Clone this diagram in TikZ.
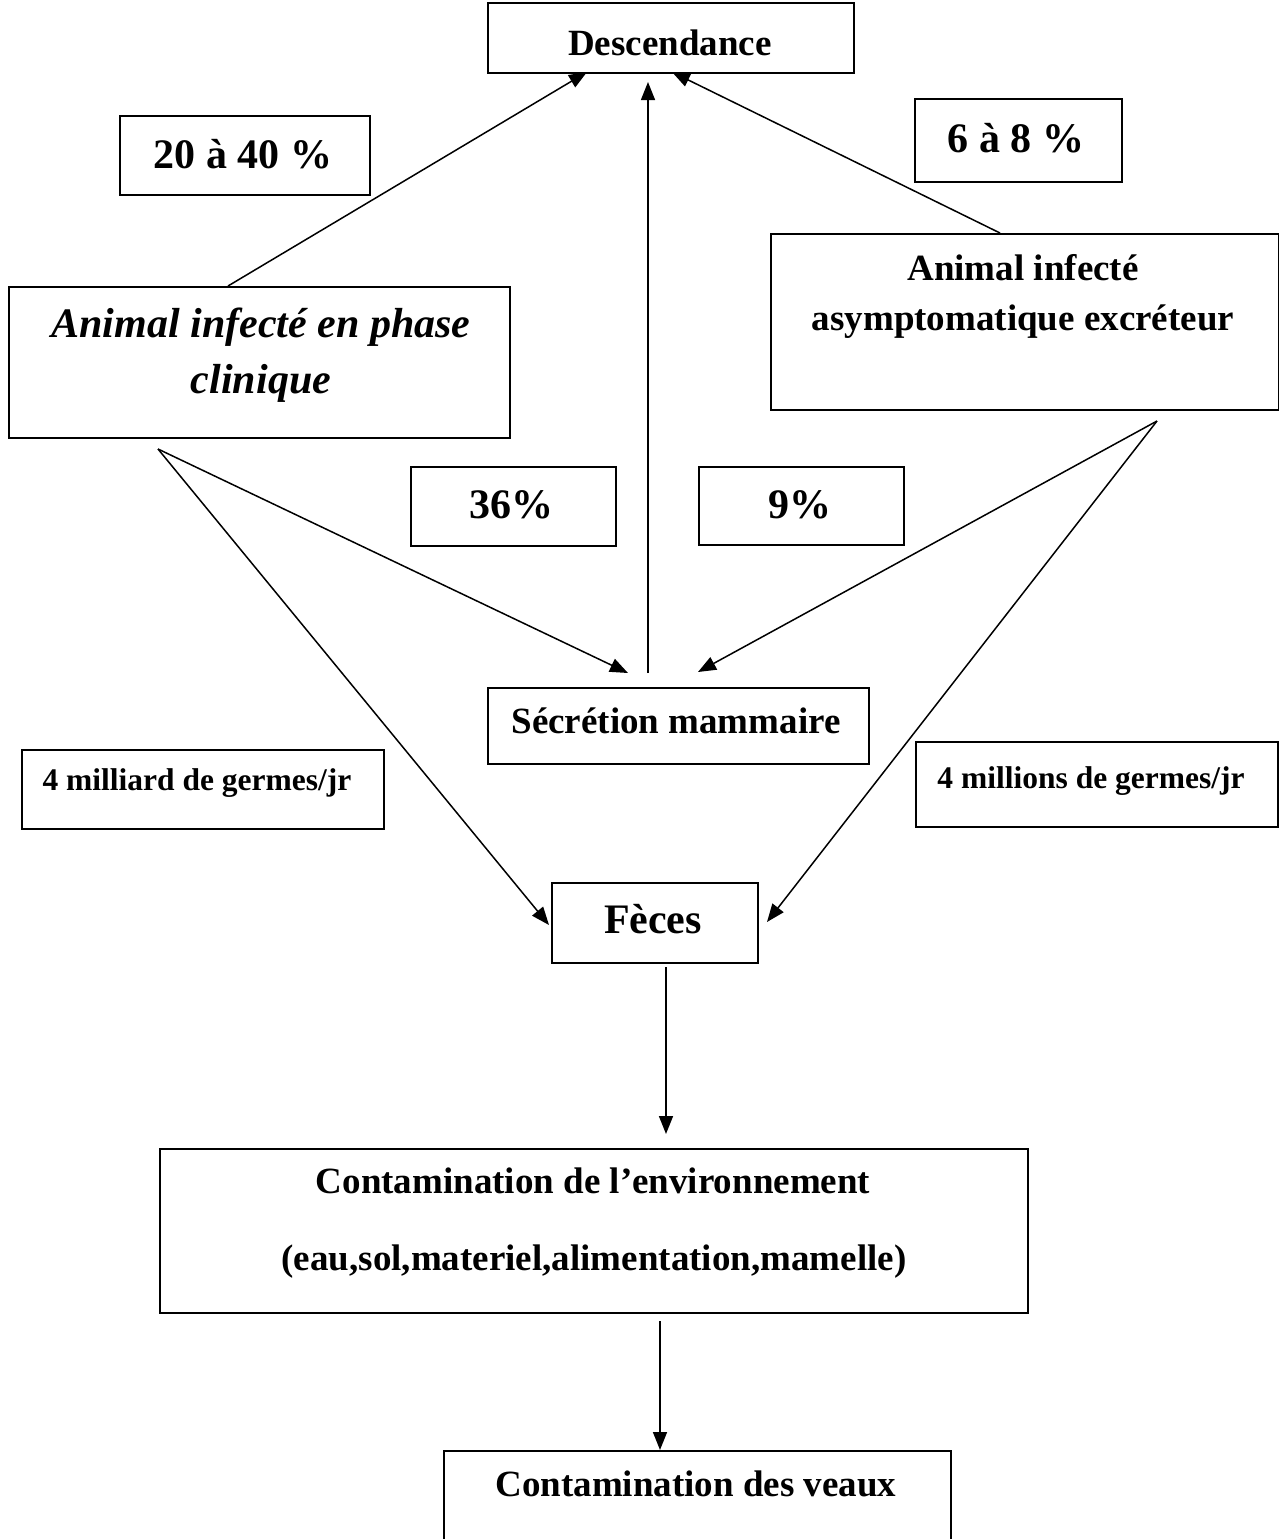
\documentclass[tikz,border=0pt]{standalone}
\usepackage{fontspec}
\setmainfont{Liberation Serif}
\usetikzlibrary{arrows.meta}
\begin{document}
\begin{tikzpicture}[x=0.5pt,y=-0.5pt,
  box/.style={draw, line width=1pt, inner sep=0pt, anchor=north west},
  txt/.style={inner sep=0pt, anchor=base, font=\bfseries\fontsize{18.5}{22}\selectfont},
  bigtxt/.style={inner sep=0pt, anchor=base, font=\bfseries\fontsize{21}{25}\selectfont},
  ittxt/.style={inner sep=0pt, anchor=base, font=\bfseries\itshape\fontsize{21}{25}\selectfont},
  smalltxt/.style={inner sep=0pt, anchor=base, font=\bfseries\fontsize{15.75}{19}\selectfont},
  arr/.style={line width=0.75pt, -{Triangle[length=9pt,width=7pt]}}]
\useasboundingbox (0,0) rectangle (1279,1539);
% boxes
\node[box, minimum width=183pt, minimum height=35pt] (desc) at (487,2) {};
\node[box, minimum width=125pt, minimum height=39.5pt] (p2040) at (119,115) {};
\node[box, minimum width=103.5pt, minimum height=41.5pt] (p68) at (914,98) {};
\node[box, minimum width=250.5pt, minimum height=75.5pt] (phase) at (8,286) {};
\node[box, minimum width=254pt, minimum height=88pt] (asym) at (770,233) {};
\node[box, minimum width=102.5pt, minimum height=39.5pt] (p36) at (410,466) {};
\node[box, minimum width=102.5pt, minimum height=39pt] (p9) at (698,466) {};
\node[box, minimum width=190.5pt, minimum height=38pt] (secr) at (487,687) {};
\node[box, minimum width=181pt, minimum height=39.5pt] (milliard) at (21,749) {};
\node[box, minimum width=181pt, minimum height=42.5pt] (millions) at (915,741) {};
\node[box, minimum width=103pt, minimum height=40pt] (feces) at (551,882) {};
\node[box, minimum width=434pt, minimum height=82pt] (env) at (159,1148) {};
\node[box, minimum width=253.5pt, minimum height=60pt] (veaux) at (443,1450) {};
% texts
\node[txt] (tdesc) at (670,55) {Descendance};
\node[bigtxt] (t2040) at (243,168) {20 à 40 \%};
\node[bigtxt] (t68) at (1016,152) {6 à 8 \%};
\node[ittxt] (tphase1) at (261,337) {Animal infecté en phase};
\node[ittxt] (tphase2) at (261,393) {clinique};
\node[txt] (tasym1) at (1023,280) {Animal infecté};
\node[txt] (tasym2) at (1023,330) {asymptomatique excréteur};
\node[bigtxt] (t36) at (511,518) {36\%};
\node[bigtxt] (t9) at (800,518) {9\%};
\node[txt] (tsecr) at (676,733) {Sécrétion mammaire};
\node[smalltxt] (tmilliard) at (197,790) {4 milliard de germes/jr};
\node[smalltxt] (tmillions) at (1091,788) {4 millions de germes/jr};
\node[bigtxt] (tfeces) at (653,933) {Fèces};
\node[txt] (tenv1) at (593,1193) {Contamination de l’environnement};
\node[txt] (tenv2) at (594,1270) {(eau,sol,materiel,alimentation,mamelle)};
\node[txt] (tveaux) at (696,1496) {Contamination des veaux};
% connector endpoints
\coordinate (phTop) at (228,286);
\coordinate (descL) at (587,72);
\coordinate (secTop) at (648,673);
\coordinate (descM) at (648,82);
\coordinate (asTop) at (1000,233);
\coordinate (descR) at (672,72);
\coordinate (phBot) at (158,449);
\coordinate (secL) at (628,673);
\coordinate (fecL) at (549,925);
\coordinate (asBot) at (1157,421);
\coordinate (secR) at (698,672);
\coordinate (fecR) at (767,922);
\coordinate (fecBot) at (666,967);
\coordinate (envTop) at (666,1134);
\coordinate (envBot) at (660,1321);
\coordinate (veauxTop) at (660,1450);
% connectors
\draw[arr] (phTop) -- (descL);
\draw[arr] (secTop) -- (descM);
\draw[arr] (asTop) -- (descR);
\draw[arr] (phBot) -- (secL);
\draw[arr] (phBot) -- (fecL);
\draw[arr] (asBot) -- (secR);
\draw[arr] (asBot) -- (fecR);
\draw[arr] (fecBot) -- (envTop);
\draw[arr] (envBot) -- (veauxTop);
\end{tikzpicture}
\end{document}
